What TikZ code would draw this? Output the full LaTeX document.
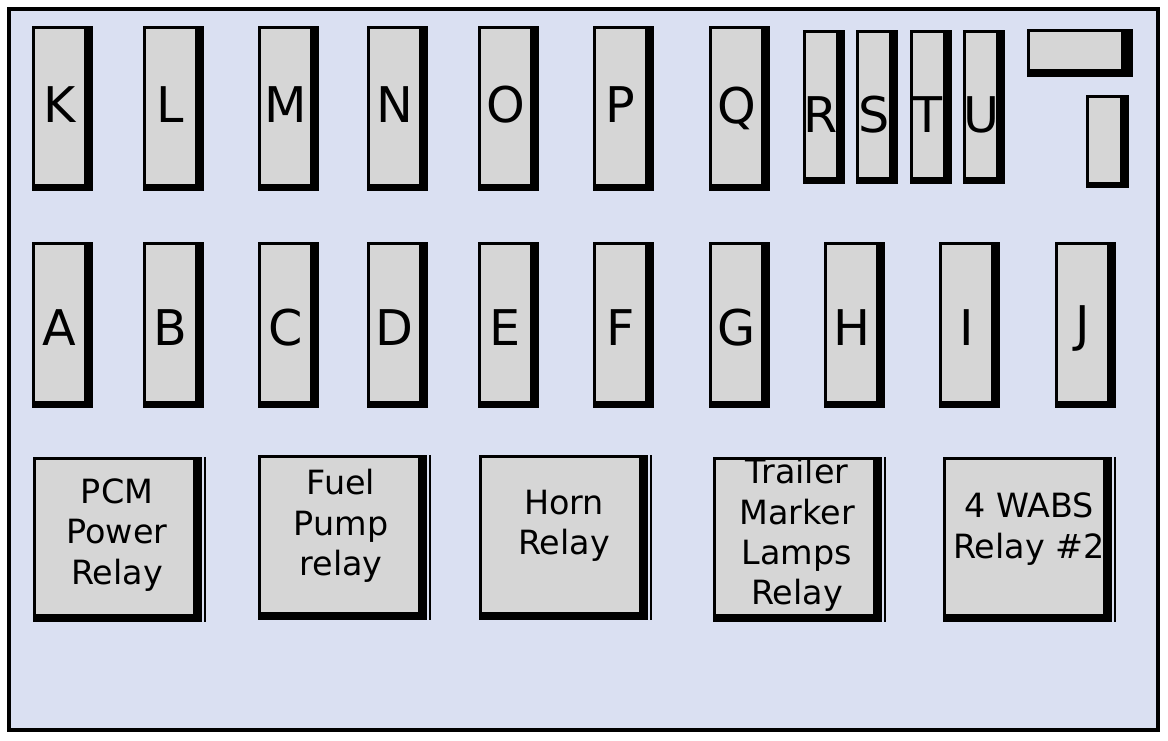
\documentclass[tikz,border=0pt]{standalone}
\usepackage{fontspec}
\setmainfont{DejaVu Sans}
\definecolor{bgc}{HTML}{DAE0F2}
\definecolor{fusec}{HTML}{D6D6D6}
\tikzset{lbl/.style={font=\fontsize{28}{30}\selectfont,inner sep=0pt},
 rlbl/.style={font=\fontsize{19}{23}\selectfont,align=center,inner sep=0pt}}
\newcommand{\fuse}[6]{%
 \fill[black] (#1,#2) rectangle (#3,#4);
 \fill[fusec] (#1+3,#2+3) rectangle (#3-9,#4-7);
 \node[lbl] (#5) at ({(#1+#3-6)/2},{#6}) {#5};}
\newcommand{\relay}[6]{%
 \fill[black] (#1,#2) rectangle (#3-4,#4);
 \draw[line width=1.2pt] (#3-1,#2) -- (#3-1,#4);
 \fill[fusec] (#1+3,#2+3) rectangle (#3-13,#4-8);
 \node[rlbl] (#5) at ({(#1+#3-10)/2},{#6}) {#5text};}
\begin{document}
\begin{tikzpicture}[x=0.02cm,y=-0.02cm]
\useasboundingbox (0,0) rectangle (1168,740);
\draw[line width=2.4pt,fill=bgc] (9,9) rectangle (1158,730);
\fuse{32}{26}{93}{191}{K}{105}
\fuse{143}{26}{204}{191}{L}{105}
\fuse{258}{26}{319}{191}{M}{105}
\fuse{367}{26}{428}{191}{N}{105}
\fuse{478}{26}{539}{191}{O}{105}
\fuse{593}{26}{654}{191}{P}{105}
\fuse{709}{26}{770}{191}{Q}{108}
\fuse{803}{30}{845}{184}{R}{115}
\fuse{856}{30}{898}{184}{S}{115}
\fuse{910}{30}{952}{184}{T}{115}
\fuse{963}{30}{1005}{184}{U}{115}
\fill[black] (1027,29) rectangle (1133,77);
\fill[fusec] (1030,32) rectangle (1121,69);
\fill[black] (1086,95) rectangle (1129,188);
\fill[fusec] (1089,98) rectangle (1120,182);
\fuse{32}{242}{93}{408}{A}{328}
\fuse{143}{242}{204}{408}{B}{328}
\fuse{258}{242}{319}{408}{C}{328}
\fuse{367}{242}{428}{408}{D}{328}
\fuse{478}{242}{539}{408}{E}{328}
\fuse{593}{242}{654}{408}{F}{328}
\fuse{709}{242}{770}{408}{G}{328}
\fuse{824}{242}{885}{408}{H}{328}
\fuse{939}{242}{1000}{408}{I}{328}
\fuse{1055}{242}{1116}{408}{J}{328}
\def\PCMtext{PCM\\Power\\Relay}
\def\Fueltext{Fuel\\Pump\\relay}
\def\Horntext{Horn\\Relay}
\def\Trailertext{Trailer\\Marker\\Lamps\\Relay}
\def\WABStext{4 WABS\\Relay \#2}
\newcommand{\relayb}[6]{%
 \fill[black] (#1,#2) rectangle (#3-4,#4);
 \draw[line width=1.2pt] (#3-1,#2) -- (#3-1,#4);
 \fill[fusec] (#1+3,#2+3) rectangle (#3-13,#4-8);}
\relayb{33}{457}{206}{622}{}{}
\node[rlbl] (PCM) at (117,535) {PCM\\Power\\Relay};
\relayb{258}{455}{431}{620}{}{}
\node[rlbl] (Fuel) at (341,526) {Fuel\\Pump\\relay};
\relayb{479}{455}{652}{620}{}{}
\node[rlbl] (Horn) at (564,526) {Horn\\Relay};
\relayb{713}{457}{886}{622}{}{}
\node[rlbl] (Trailer) at (797,535) {Trailer\\Marker\\Lamps\\Relay};
\relayb{943}{457}{1116}{622}{}{}
\node[rlbl] (WABS) at (1029,529) {4 WABS\\Relay \#2};
\end{tikzpicture}
\end{document}
